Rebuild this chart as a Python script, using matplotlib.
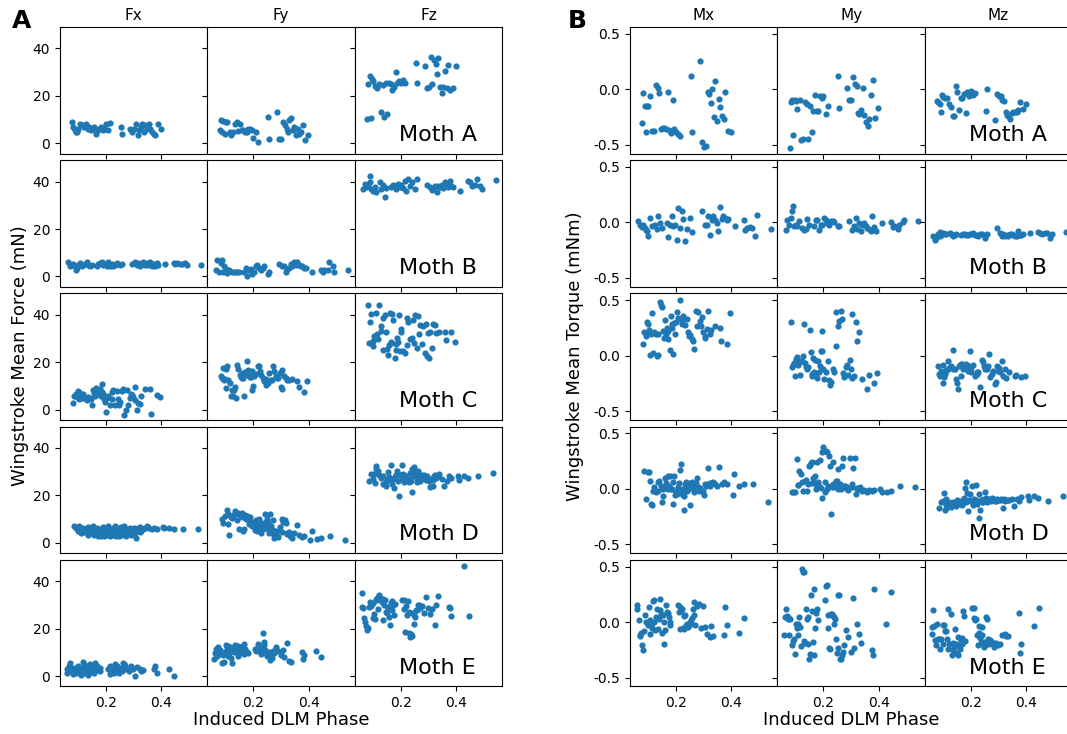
import matplotlib
matplotlib.use("Agg")
import matplotlib.pyplot as plt

# ---- data ----
moth_names = ["Moth A", "Moth B", "Moth C", "Moth D", "Moth E"]
force_names = ["Fx", "Fy", "Fz"]
torque_names = ["Mx", "My", "Mz"]

# Moth A
phase_a = [0.078, 0.082, 0.088, 0.092, 0.096, 0.100, 0.106, 0.114, 0.120, 0.128, 0.134, 0.140,
           0.146, 0.152, 0.158, 0.164, 0.170, 0.176, 0.182, 0.188, 0.194, 0.200, 0.208, 0.216,
           0.254, 0.258, 0.286, 0.294, 0.300, 0.308, 0.314, 0.320, 0.326, 0.330, 0.336, 0.342,
           0.348, 0.354, 0.360, 0.366, 0.372, 0.378, 0.388, 0.398]
fx_a = [9.0, 6.9, 5.5, 4.8, 4.8, 6.2, 8.3, 7.5, 6.9, 8.3, 6.2, 6.9, 5.5, 6.2, 6.9, 4.1, 5.5, 6.2,
        6.9, 5.5, 6.2, 8.3, 5.5, 8.5,
        6.9, 4.1, 6.2, 4.8, 6.2, 8.0, 3.4, 5.5, 6.9, 8.3, 4.8, 7.5, 6.2, 8.3, 6.2, 4.8, 4.1, 3.4,
        8.3, 6.2]
fy_a = [5.5, 9.7, 4.8, 9.3, 4.1, 9.0, 9.0, 4.8, 3.4, 4.8, 8.3, 9.0, 5.1, 8.3, 5.5, 5.5, 4.8, 4.8,
        6.2, 6.2, 5.5, 2.3, 4.8, 0.6,
        11.1, 1.7, 13.2, 2.0, 2.0, 9.0, 7.6, 6.2, 4.8, 9.7, 10.6, 5.5, 6.9, 3.4, 6.2, 4.1, 4.8,
        7.6, 1.3, 3.4]
fz_a = [10.1, 24.8, 28.5, 10.7, 27.0, 26.2, 24.0, 23.1, 25.0, 13.2, 24.5, 11.1, 25.2, 12.3, 25.2,
        24.8, 22.4, 23.8, 30.1, 25.2, 26.2, 25.5, 26.5, 25.2,
        33.7, 25.2, 32.7, 23.1, 23.8, 36.5, 24.8, 35.1, 33.2, 29.0, 35.8, 23.8, 21.0, 23.8, 30.4,
        23.1, 33.0, 22.4, 23.1, 32.5]
mx_a = [-0.307, -0.03, -0.148, -0.383, -0.148, -0.154, -0.06, -0.373, -0.373, 0.042, 0.009,
        -0.033, -0.358, -0.352, -0.346, -0.358, -0.027, -0.364, -0.395, -0.093, -0.358, -0.389,
        -0.40, -0.425,
        0.123, -0.389, 0.259, -0.473, -0.524, -0.509, -0.027, -0.042, -0.127, 0.003, -0.247,
        0.078, -0.283, -0.087, -0.163, -0.238, -0.268, -0.027, -0.373, -0.389]
my_a = [-0.533, -0.111, -0.093, -0.413, -0.093, -0.102, -0.178, -0.10, -0.455, -0.449, -0.117,
        -0.133, -0.449, -0.148, -0.383, -0.193, -0.051, -0.193, -0.20, -0.057, -0.081, -0.06,
        -0.223, -0.15,
        0.117, -0.172, 0.009, -0.093, -0.10, 0.108, 0.048, 0.027, -0.214, -0.223, -0.184, 0.009,
        -0.232, -0.298, -0.328, -0.268, -0.051, 0.087, -0.262, -0.172]
mz_a = [-0.102, -0.117, -0.133, -0.208, -0.051, -0.072, -0.08, -0.081, -0.133, -0.163, -0.244,
        -0.244, 0.033, -0.027, -0.184, -0.081, -0.081, -0.042, -0.214, -0.021, -0.063, -0.012,
        -0.05, -0.03,
        -0.193, 0.003, -0.274, -0.042, -0.06, -0.057, -0.093, -0.102, -0.208, -0.232, -0.244,
        -0.268, -0.214, -0.202, -0.208, -0.208, -0.184, -0.117, -0.178, -0.133]

# Moth B
phase_b = [0.064, 0.070, 0.076, 0.082, 0.088, 0.090, 0.094, 0.100, 0.106, 0.112, 0.124, 0.130,
           0.136, 0.142, 0.148, 0.166, 0.172, 0.178, 0.184, 0.190, 0.196, 0.202, 0.208, 0.214,
           0.220, 0.227, 0.233, 0.239, 0.251, 0.257, 0.293, 0.305, 0.311, 0.317, 0.323, 0.329,
           0.335, 0.341, 0.347, 0.353, 0.359, 0.365, 0.371, 0.377, 0.383, 0.389, 0.413, 0.444,
           0.450, 0.456, 0.468, 0.474, 0.486, 0.492, 0.542]
fx_b = [6.0, 4.5, 5.0, 5.4, 4.3, 2.8, 3.5, 5.0, 5.7, 4.5, 5.4, 6.0, 5.0, 4.5, 5.0, 4.5, 5.4, 5.7,
        6.0, 5.0, 5.4, 4.3, 6.0, 4.5, 5.4, 4.3, 5.0, 5.7, 5.0, 5.4, 5.4, 6.0, 5.0, 5.7, 4.5, 5.4,
        6.0, 5.0, 5.7, 5.0, 6.0, 4.5, 5.4, 4.3, 5.7, 5.0, 5.4, 5.7, 5.4, 5.7, 5.4, 5.4, 5.7, 5.0,
        4.9]
fy_b = [2.55, 6.8, 1.7, 5.7, 7.1, 2.1, 4.3, 3.1, 1.4, 2.55, 2.1, 2.1, 1.7, 1.7, 2.1, 2.1, 3.5,
        0.3, 2.55, 3.1, 1.1, 1.7, 4.3, 5.0, 3.5, 2.55, 3.5, 4.3, 1.1, 1.7, 5.4, 4.3, 4.3, 2.1, 3.1,
        3.5, 5.4, 4.3, 6.0, 5.0, 6.0, 5.0, 4.3, 4.3, 3.5, 3.5, 2.1, 2.8, 2.1, 2.8, 2.55, 6.0, 4.3,
        2.1, 2.8]
fz_b = [36.9, 39.0, 37.6, 38.0, 42.3, 39.7, 36.9, 36.2, 37.6, 35.7, 39.7, 36.9, 38.6, 33.3, 37.2,
        37.6, 38.6, 38.3, 36.9, 39.0, 37.6, 38.6, 37.2, 40.4, 36.2, 41.1, 38.3, 40.0, 36.9, 41.1,
        38.6, 37.6, 36.6, 37.2, 38.0, 35.7, 38.3, 37.6, 38.6, 37.2, 40.0, 38.6, 37.9, 40.4, 38.3,
        37.5, 36.2, 40.4, 39.7, 38.0, 38.6, 41.1, 38.3, 36.9, 40.7]
mx_b = [0.009, -0.021, -0.04, -0.021, -0.051, -0.072, -0.081, -0.125, 0.039, -0.030, -0.021,
        -0.060, 0.060, -0.006, -0.051, -0.006, -0.131, -0.021, 0.060, -0.036, -0.021, -0.155,
        0.128, -0.051, 0.099, 0.030, -0.170, -0.060, 0.039, -0.090, 0.107, -0.02, -0.021, 0.060,
        -0.110, 0.018, 0.054, 0.024, -0.006, -0.081, 0.143, 0.030, 0.054, 0.039, 0.018, 0.030,
        -0.036, 0.018, -0.072, -0.05, -0.042, -0.051, -0.125, 0.069, -0.057]
my_b = [-0.072, 0.018, -0.02, 0.039, 0.107, 0.149, -0.036, -0.021, -0.030, 0.009, -0.051, -0.066,
        -0.060, 0.030, -0.02, -0.030, 0.018, 0.024, -0.066, -0.021, -0.021, 0.039, 0.018, -0.006,
        -0.021, 0.01, 0.009, 0.0, -0.036, -0.036, 0.009, -0.072, -0.036, 0.039, -0.060, -0.006,
        -0.081, -0.021, -0.006, -0.036, -0.051, -0.06, -0.081, 0.054, -0.04, -0.081, -0.006, 0.0,
        -0.042, -0.03, -0.060, -0.021, 0.0, 0.018, 0.015]
mz_b = [-0.119, -0.155, -0.14, -0.101, -0.125, -0.09, -0.110, -0.096, -0.105, -0.10, -0.096,
        -0.101, -0.125, -0.11, -0.101, -0.110, -0.101, -0.101, -0.11, -0.110, -0.101, -0.101,
        -0.096, -0.11, -0.110, -0.119, -0.101, -0.10, -0.140, -0.10, -0.051, -0.096, -0.119,
        -0.101, -0.125, -0.11, -0.119, -0.10, -0.101, -0.11, -0.125, -0.12, -0.081, -0.110,
        -0.11, -0.10, -0.096, -0.09, -0.096, -0.10, -0.096, -0.096, -0.140, -0.10, -0.09]

# Moth C
phase_c = [0.082, 0.086, 0.090, 0.094, 0.098, 0.100, 0.102, 0.106, 0.110, 0.114, 0.118, 0.122,
           0.127, 0.130, 0.134, 0.136, 0.142, 0.146, 0.151, 0.154, 0.158, 0.160, 0.163, 0.166,
           0.170, 0.172, 0.178, 0.182, 0.184, 0.187, 0.190, 0.194, 0.196, 0.199, 0.202, 0.208,
           0.215, 0.221, 0.223, 0.227, 0.233, 0.239, 0.245, 0.247, 0.251, 0.257, 0.263, 0.266,
           0.271, 0.275, 0.281, 0.287, 0.290, 0.295, 0.299, 0.303, 0.305, 0.311, 0.317, 0.323,
           0.327, 0.339, 0.359, 0.363, 0.383, 0.395]
fx_c = [2.9, 5.7, 6.6, 5.4, 8.0, 6.1, 4.7, 7.1, 5.7, 5.1, 6.6, 5.4, 4.3, 4.0, 4.7, 5.4, 5.1, 4.3,
        1.9, 8.3, 7.1, 5.7, 9.0, 8.0, 8.3, 6.6, 8.6, 5.7, 10.9, 7.6, 6.6, 4.7, 3.3, -1.0, 5.1, 5.7,
        1.9, 7.6, 4.3, 8.3, 1.9, 8.0, 4.7, 1.9, 3.3, 8.0, 8.6, -2.4, -0.3, 8.3, 1.9, 5.1, 6.6, 6.1,
        5.4, 9.7, 4.0, -0.3, 2.9, 2.3, 5.7, 8.9, 8.9, -1.7, 6.1, 5.4]
fy_c = [14.3, 13.3, 17.6, 12.6, 12.9, 9.0, 17.1, 18.6, 12.6, 11.1, 5.7, 8.3, 5.7, 8.3, 9.4, 5.1,
        19.0, 17.1, 14.7, 13.7, 15.4, 13.3, 13.3, 5.7, 15.7, 15.0, 20.4, 16.9, 14.3, 13.7, 13.7,
        16.1, 8.3, 10.0, 14.0, 15.0, 18.6, 18.6, 16.1, 14.7, 13.3, 12.3, 10.4, 12.9, 11.1, 15.4,
        12.6, 12.6, 18.6, 16.1, 14.3, 13.3, 13.3, 15.4, 9.4, 8.6, 16.9, 14.0, 13.3, 12.6, 12.6,
        12.9, 12.3, 9.7, 7.6, 12.3]
fz_c = [44.3, 28.0, 36.9, 40.4, 29.0, 26.9, 31.1, 30.4, 40.9, 31.9, 29.7, 44.3, 35.1, 33.3, 38.6,
        25.1, 40.0, 32.9, 25.7, 22.9, 27.1, 40.9, 28.0, 28.6, 40.4, 37.6, 21.9, 27.6, 25.1, 30.0,
        28.6, 40.0, 24.7, 34.0, 32.9, 24.7, 23.7, 38.6, 27.1, 36.9, 29.7, 30.4, 37.6, 28.3, 40.0,
        26.1, 39.4, 31.9, 35.7, 27.6, 35.1, 24.0, 36.1, 22.6, 32.3, 21.9, 32.9, 26.1, 36.1, 35.7,
        32.3, 32.9, 32.9, 29.4, 32.6, 28.6]
mx_c = [0.105, 0.216, 0.180, 0.305, 0.284, 0.210, 0.234, 0.006, 0.195, 0.383, 0.024, 0.210,
        0.195, 0.0, 0.006, 0.195, 0.479, 0.455, 0.434, 0.225, 0.156, 0.323, 0.195, 0.246, 0.225,
        0.150, 0.054, 0.359, 0.284, 0.246, 0.015, 0.293, 0.195, 0.299, 0.389, 0.335, 0.503,
        0.314, 0.284, 0.353, 0.275, 0.329, 0.216, 0.180, 0.186, 0.150, 0.135, 0.060, 0.404,
        0.269, 0.389, 0.314, 0.269, 0.344, 0.210, 0.156, 0.180, 0.240, 0.404, 0.195, 0.230,
        0.263, 0.246, 0.135, 0.105, 0.383]
my_c = [0.305, -0.105, -0.084, -0.066, -0.186, -0.045, -0.030, -0.015, -0.084, -0.174, -0.045,
        -0.045, -0.006, 0.284, -0.066, -0.105, -0.12, -0.105, 0.234, 0.036, -0.165, -0.186,
        -0.024, -0.150, -0.036, -0.165, -0.204, -0.045, -0.150, -0.09, 0.045, 0.225, 0.045,
        -0.12, -0.210, -0.150, -0.045, -0.216, -0.263, -0.240, -0.120, -0.150, 0.090, 0.389,
        0.263, 0.314, 0.404, 0.329, -0.156, -0.195, -0.105, -0.084, -0.174, -0.036, -0.120,
        -0.2, 0.374, -0.186, 0.299, 0.135, 0.216, -0.210, -0.305, -0.174, -0.246, -0.156]
mz_c = [-0.096, -0.165, -0.186, -0.135, -0.084, -0.246, -0.195, -0.165, -0.126, -0.126, -0.045,
        -0.114, -0.10, -0.096, 0.054, -0.120, -0.120, -0.210, -0.246, -0.299, -0.096, -0.084,
        -0.075, -0.180, -0.075, -0.120, -0.105, -0.075, -0.096, -0.10, -0.135, -0.096, 0.045,
        -0.11, -0.144, -0.084, -0.180, -0.165, -0.15, -0.150, -0.284, -0.036, -0.054, -0.09,
        -0.120, -0.120, -0.090, 0.015, -0.195, -0.165, -0.135, -0.254, -0.240, -0.096, -0.14,
        -0.110, -0.144, -0.045, -0.186, -0.12, -0.204, -0.15, -0.186, -0.17, -0.195, -0.186]

# Moth D
phase_d = [0.085, 0.092, 0.098, 0.104, 0.107, 0.110, 0.112, 0.118, 0.122, 0.128, 0.134, 0.136,
           0.140, 0.146, 0.148, 0.152, 0.154, 0.158, 0.160, 0.164, 0.167, 0.170, 0.172, 0.176,
           0.178, 0.182, 0.184, 0.188, 0.190, 0.194, 0.196, 0.200, 0.204, 0.206, 0.208, 0.212,
           0.214, 0.218, 0.220, 0.224, 0.228, 0.230, 0.233, 0.236, 0.239, 0.242, 0.245, 0.248,
           0.251, 0.254, 0.257, 0.260, 0.263, 0.266, 0.269, 0.272, 0.276, 0.278, 0.284, 0.287,
           0.290, 0.296, 0.302, 0.305, 0.308, 0.315, 0.317, 0.321, 0.323, 0.327, 0.333, 0.339,
           0.347, 0.357, 0.365, 0.375, 0.383, 0.405, 0.411, 0.429, 0.444, 0.477, 0.532]
fx_d = [7.1, 6.4, 5.0, 7.1, 6.0, 4.3, 5.7, 6.4, 4.5, 5.0, 6.8, 3.5, 5.7, 6.4, 4.3, 5.0, 7.1, 3.5,
        5.7, 4.3, 6.4, 2.8, 5.0, 6.0, 4.3, 3.1, 5.7, 6.8, 4.5, 2.8, 5.0, 6.4, 3.5, 5.7, 7.1, 4.3,
        2.8, 6.0, 5.0, 3.5, 6.4, 4.5, 7.1, 3.1, 5.7, 4.3, 6.4, 2.8, 5.0, 6.8, 3.5, 5.7, 4.3, 7.1,
        5.0, 3.1, 6.0, 4.5, 5.7, 6.4, 3.5, 5.0, 6.4, 4.3, 2.1, 5.7, 6.4, 4.5, 6.8, 5.0, 6.0, 6.4,
        7.1, 6.4, 5.7, 6.4, 6.0, 6.8, 6.4, 6.4, 5.9, 5.7, 5.7]
fy_d = [9.9, 8.5, 11.3, 13.9, 12.1, 7.8, 3.5, 11.0, 10.6, 11.6, 13.5, 12.0, 9.6, 12.8, 6.0, 12.1,
        11.5, 12.5, 10.8, 5.0, 6.0, 11.6, 10.0, 10.6, 11.2, 9.9, 8.0, 11.0, 9.0, 8.8, 7.0, 8.2,
        6.8, 5.4, 9.5, 5.0, 8.0, 7.4, 10.2, 6.0, 4.3, 8.5, 6.5, 5.7, 7.5, 12.1, 9.0, 10.2, 6.0,
        8.2, 4.0, 12.1, 7.0, 4.3, 5.5, 9.6, 2.1, 2.8, 3.1, 5.0, 2.6, 6.8, 9.9, 4.5, 8.8, 9.6, 8.2,
        4.3, 3.8, 4.5, 3.1, 2.1, 4.0, 7.4, 3.5, 2.6, 3.0, 1.4, 5.0, 1.7, 2.2, 3.1, 1.1]
fz_d = [26.2, 29.1, 27.0, 29.1, 25.2, 31.2, 32.6, 30.1, 28.4, 27.2, 24.8, 28.0, 24.8, 23.8, 25.8,
        26.5, 29.8, 27.7, 27.0, 32.9, 24.8, 27.0, 27.0, 23.0, 27.7, 28.5, 28.7, 30.5, 26.2, 19.6,
        28.4, 28.4, 32.9, 27.0, 29.1, 25.5, 26.7, 28.0, 27.7, 26.5, 25.5, 27.0, 29.5, 26.0, 31.2,
        21.6, 28.1, 31.9, 30.1, 29.1, 27.2, 25.8, 30.5, 28.4, 26.0, 27.0, 27.7, 28.7, 28.7, 27.5,
        26.7, 28.1, 26.2, 23.4, 27.0, 23.8, 26.5, 28.0, 28.7, 27.5, 28.0, 29.1, 27.0, 24.0, 26.0,
        28.1, 27.5, 28.1, 26.7, 28.1, 27.5, 28.1, 29.4]
mx_d = [0.165, -0.09, 0.15, 0.150, 0.075, -0.135, -0.150, -0.015, 0.015, -0.030, -0.015, 0.060,
        0.075, 0.030, -0.114, -0.066, 0.0, 0.02, 0.096, 0.05, 0.024, 0.0, 0.114, 0.03, 0.120, 0.0,
        0.0, 0.06, -0.135, 0.120, -0.054, -0.024, -0.045, 0.02, -0.015, 0.05, 0.174, 0.225,
        -0.045, 0.0, -0.060, -0.195, 0.045, 0.066, -0.015, 0.01, 0.054, 0.03, -0.150, 0.006,
        0.060, 0.04, 0.015, -0.030, 0.03, 0.054, 0.096, 0.02, -0.015, 0.006, -0.015, -0.015,
        -0.054, 0.045, 0.03, 0.186, 0.045, 0.03, 0.054, 0.05, 0.060, 0.045, 0.03, 0.195, 0.04,
        0.060, 0.045, -0.054, 0.135, 0.030, 0.04, 0.045, -0.120]
my_d = [-0.024, -0.024, -0.024, 0.269, 0.036, 0.036, 0.165, 0.135, 0.060, -0.015, 0.075, 0.084,
        -0.015, 0.045, 0.210, 0.216, 0.234, 0.05, 0.246, 0.096, 0.054, 0.114, 0.0, 0.246, 0.02,
        0.060, 0.03, 0.263, 0.01, -0.084, 0.335, 0.374, -0.030, 0.060, 0.344, 0.329, 0.0, 0.024,
        0.299, 0.210, -0.225, 0.015, 0.045, 0.240, 0.02, 0.030, 0.075, 0.075, 0.0, 0.180, 0.03,
        0.045, 0.0, 0.210, 0.275, 0.015, 0.03, 0.030, 0.0, 0.02, -0.01, 0.275, 0.045, 0.02, 0.186,
        0.275, -0.045, 0.0, 0.01, 0.0, 0.015, -0.015, -0.01, -0.024, -0.01, -0.015, -0.01, 0.0,
        -0.030, -0.024, -0.02, 0.030, 0.015]
mz_d = [-0.174, -0.120, -0.105, -0.036, -0.195, -0.144, -0.090, -0.165, -0.12, -0.165, -0.114,
        -0.13, -0.144, -0.120, -0.156, -0.10, -0.135, -0.126, -0.11, -0.126, -0.150, -0.12,
        -0.114, -0.084, 0.006, -0.12, 0.060, -0.036, -0.204, -0.1, -0.045, -0.11, 0.024, -0.120,
        -0.144, -0.09, -0.11, -0.10, 0.036, -0.135, -0.263, -0.045, -0.195, -0.10, -0.096, -0.12,
        -0.120, -0.09, -0.024, -0.084, -0.114, -0.10, -0.105, -0.09, -0.096, -0.11, -0.084, -0.10,
        -0.09, -0.105, -0.11, -0.09, -0.1, -0.10, -0.09, -0.174, -0.1, -0.09, -0.105, -0.1,
        -0.096, -0.1, -0.09, -0.156, -0.09, -0.105, -0.075, -0.060, -0.096, -0.066, -0.08,
        -0.105, -0.060]

# Moth E
phase_e = [0.059, 0.061, 0.065, 0.069, 0.071, 0.073, 0.077, 0.081, 0.085, 0.089, 0.093, 0.098,
           0.101, 0.105, 0.107, 0.110, 0.113, 0.117, 0.119, 0.122, 0.125, 0.129, 0.131, 0.134,
           0.137, 0.141, 0.143, 0.146, 0.149, 0.153, 0.155, 0.158, 0.161, 0.165, 0.167, 0.170,
           0.173, 0.177, 0.180, 0.206, 0.210, 0.213, 0.216, 0.218, 0.222, 0.225, 0.228, 0.230,
           0.234, 0.237, 0.240, 0.242, 0.246, 0.249, 0.252, 0.254, 0.258, 0.261, 0.264, 0.266,
           0.270, 0.276, 0.282, 0.290, 0.298, 0.306, 0.312, 0.322, 0.327, 0.334, 0.375, 0.378,
           0.383, 0.427, 0.445]
fx_e = [3.1, 1.4, 4.3, 2.1, 5.4, 2.8, 2.8, 0.7, 3.5, 2.1, 1.1, 4.3, 2.8, 1.7, 3.5, 0.3, 3.5, 6.0,
        2.1, 1.1, 4.5, 2.8, 2.8, 0.3, 2.1, 5.0, 2.8, 3.5, 1.7, 3.1, 4.3, 1.4, 5.4, 3.1, 4.3, 2.5,
        3.0, 2.2, 3.6, 2.8, 2.8, 0.7, 4.3, 2.0, 2.1, 3.1, 1.4, 3.0, 5.0, 2.8, 4.3, 2.5, 1.1, 3.5,
        2.4, 3.0, 2.1, 5.7, 3.3, 2.8, 4.5, 3.1, 2.1, 4.3, 2.8, 0.0, 4.0, 3.1, 2.1, 2.4, 3.0, 4.3,
        1.1, 2.8, 0.0]
fy_e = [7.1, 9.9, 11.3, 8.5, 10.6, 12.1, 9.5, 11.0, 5.4, 8.8, 6.0, 10.0, 13.0, 11.6, 12.5, 8.5,
        9.6, 12.1, 7.8, 5.7, 10.5, 10.2, 12.0, 13.0, 10.5, 11.3, 12.5, 8.5, 9.6, 10.6, 11.0, 11.6,
        12.5, 13.5, 9.2, 11.3, 10.0, 10.2, 9.6, 11.6, 10.6, 11.5, 13.5, 12.0, 11.3, 10.5, 9.2,
        12.5, 18.2, 14.5, 13.0, 11.0, 9.9, 8.5, 8.8, 9.2, 10.0, 6.8, 9.6, 7.8, 10.5, 9.9, 12.1,
        10.6, 8.8, 11.1, 8.2, 13.9, 6.4, 6.0, 10.2, 7.4, 9.0, 10.6, 8.2]
fz_e = [35.2, 29.1, 28.7, 24.4, 23.0, 21.0, 19.6, 20.1, 29.0, 31.2, 29.5, 24.5, 30.9, 26.0, 24.1,
        32.6, 31.9, 28.4, 33.3, 34.0, 32.9, 32.3, 31.2, 23.8, 32.6, 30.0, 31.9, 27.0, 26.7, 29.0,
        28.7, 25.0, 21.6, 31.0, 31.5, 27.7, 29.8, 25.8, 30.5, 31.9, 31.9, 28.4, 18.4, 29.5, 25.8,
        31.5, 18.2, 27.0, 16.3, 17.7, 17.0, 26.5, 22.0, 25.8, 24.8, 28.0, 27.7, 29.8, 30.1, 28.5,
        28.7, 29.5, 26.7, 33.3, 28.7, 26.1, 28.4, 21.6, 29.8, 33.8, 29.0, 28.7, 25.2, 46.5, 25.2]
mx_e = [0.150, 0.114, 0.015, -0.126, -0.114, -0.096, -0.204, -0.254, -0.084, 0.066, 0.0, -0.03,
        0.135, -0.105, 0.02, -0.030, -0.054, 0.186, 0.195, 0.0, -0.075, 0.045, 0.114, -0.060,
        0.03, 0.210, 0.105, 0.075, -0.096, 0.060, -0.195, 0.0, -0.075, 0.156, 0.090, 0.08, 0.05,
        -0.03, 0.0, 0.156, 0.090, -0.060, 0.135, 0.10, 0.120, -0.054, 0.054, -0.066, 0.06,
        -0.030, -0.015, -0.045, -0.024, 0.0, -0.02, 0.015, 0.036, 0.120, 0.180, 0.066, -0.024,
        0.144, 0.165, -0.054, 0.144, -0.045, -0.105, -0.135, -0.04, -0.13, -0.120, 0.135,
        -0.030, -0.096, 0.036]
my_e = [-0.114, 0.045, 0.120, 0.054, 0.030, 0.045, -0.12, 0.03, -0.210, -0.174, -0.15, -0.284,
        -0.015, -0.05, -0.015, -0.114, 0.045, -0.045, -0.216, 0.479, 0.449, 0.449, -0.174,
        -0.186, 0.120, 0.03, 0.045, -0.195, -0.329, -0.284, 0.240, 0.10, -0.180, 0.299, -0.299,
        -0.054, 0.08, 0.120, 0.015, 0.195, 0.323, 0.335, 0.066, -0.05, -0.234, -0.240, 0.075,
        0.075, 0.054, -0.015, 0.045, 0.03, -0.15, -0.275, -0.234, 0.246, 0.246, -0.335, -0.335,
        -0.293, -0.269, -0.210, -0.075, -0.135, -0.269, 0.216, -0.234, -0.015, -0.105, -0.186,
        -0.254, -0.299, 0.299, -0.015, 0.269]
mz_e = [-0.105, -0.045, 0.105, -0.036, -0.165, -0.204, -0.015, -0.15, -0.150, -0.240, -0.156,
        -0.2, -0.024, -0.024, -0.084, -0.084, -0.150, -0.240, 0.120, -0.195, -0.195, 0.075,
        -0.293, -0.25, -0.186, -0.225, -0.066, -0.2, -0.275, -0.135, -0.293, -0.22, -0.240,
        -0.174, -0.144, -0.2, 0.096, 0.054, -0.174, 0.126, 0.126, 0.036, 0.02, 0.024, -0.120,
        -0.210, -0.1, -0.036, -0.144, -0.186, -0.045, -0.12, -0.225, -0.18, -0.210, 0.045, 0.03,
        -0.15, -0.180, -0.2, -0.165, -0.180, -0.225, -0.186, -0.210, -0.195, -0.114, -0.105,
        -0.126, -0.13, 0.084, -0.275, -0.2, -0.036, 0.126]

phases = [phase_a, phase_b, phase_c, phase_d, phase_e]
forces = [[fx_a, fy_a, fz_a], [fx_b, fy_b, fz_b], [fx_c, fy_c, fz_c],
          [fx_d, fy_d, fz_d], [fx_e, fy_e, fz_e]]
torques = [[mx_a, my_a, mz_a], [mx_b, my_b, mz_b], [mx_c, my_c, mz_c],
           [mx_d, my_d, mz_d], [mx_e, my_e, mz_e]]

# ---- layout (pixel based, figure is 1067 x 734) ----
W, H = 1067, 734
col_w = 147.4
row_h = 126.5
row_step = 133.2
top0 = 27

fig = plt.figure(figsize=(W / 100, H / 100), dpi=100)


def panel_rect(left_px, col, row):
    x0 = left_px + col * col_w
    y_top = top0 + row * row_step
    return [x0 / W, 1 - (y_top + row_h) / H, col_w / W, row_h / H]


blocks = [
    (60, forces, force_names, (-4.3, 49.0), [0, 20, 40], None),
    (630, torques, torque_names, (-0.579, 0.561), [-0.5, 0.0, 0.5], "%.1f"),
]

for left_px, values, names, ylim, yticks, yfmt in blocks:
    for r in range(5):
        for c in range(3):
            ax = fig.add_axes(panel_rect(left_px, c, r))
            ax.scatter(phases[r], values[r][c], s=20, color="#1f77b4", linewidths=0)
            ax.set_xlim(0.034, 0.566)
            ax.set_ylim(*ylim)
            ax.set_xticks([0.2, 0.4])
            ax.set_yticks(yticks)
            ax.tick_params(labelsize=10, length=3.5)
            if r == 4:
                ax.set_xticklabels(["0.2", "0.4"])
            else:
                ax.set_xticklabels([])
            if c == 0:
                if yfmt:
                    ax.set_yticklabels([yfmt % v for v in yticks])
            else:
                ax.set_yticklabels([])
            if r == 0:
                ax.set_title(names[c], fontsize=11, pad=5)
            if c == 2:
                ax.text(0.3, 0.1, moth_names[r], transform=ax.transAxes, fontsize=16)

fig.text(12 / W, 1 - 9 / H, "A", fontsize=18, fontweight="bold", va="top")
fig.text(568 / W, 1 - 9 / H, "B", fontsize=18, fontweight="bold", va="top")

fig.text(20 / W, 1 - 356 / H, "Wingstroke Mean Force (mN)", rotation=90,
         ha="center", va="center", fontsize=13)
fig.text(575 / W, 1 - 356 / H, "Wingstroke Mean Torque (mNm)", rotation=90,
         ha="center", va="center", fontsize=13)
fig.text(281 / W, 1 - 720 / H, "Induced DLM Phase", ha="center", va="center", fontsize=13)
fig.text(851 / W, 1 - 720 / H, "Induced DLM Phase", ha="center", va="center", fontsize=13)

fig.savefig("out.png", dpi=100)
